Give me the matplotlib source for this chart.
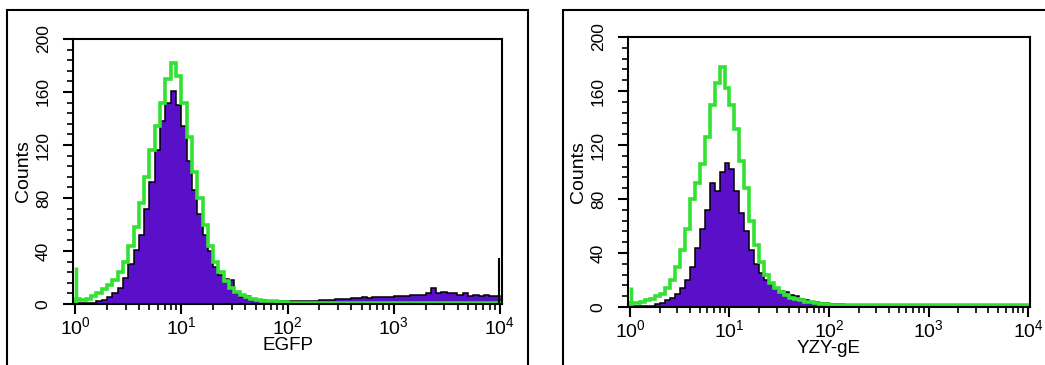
import numpy as np
import matplotlib
matplotlib.use('Agg')
import matplotlib.pyplot as plt
from matplotlib.ticker import MultipleLocator, FixedLocator, LogLocator, NullFormatter, FuncFormatter
from matplotlib.patches import Rectangle

plt.rcParams['font.family'] = ['Liberation Sans', 'DejaVu Sans']

# channel edges: 80 log channels over 4 decades
n_ch = 80
edges = 10 ** (np.arange(n_ch + 1) * 4.0 / n_ch)

# panel 1 : EGFP
egfp_filled = [1, 0.5, 0.5, 1, 2, 3, 5, 8, 12, 20,
               30, 41, 52, 72, 92, 116, 138, 152, 161, 150,
               134, 108, 86, 68, 52, 40, 28, 22, 19, 18,
               8, 5, 6, 4, 3, 3, 2, 2, 2, 2,
               2, 2, 2, 2, 2, 2.5, 3, 3, 3, 3.5,
               4, 4, 4.5, 4.5, 5, 4.5, 5, 5, 5.5, 5,
               6, 6, 6, 7, 7, 7, 8, 12, 8, 9,
               8, 8, 7, 8, 6, 7, 6, 7, 6, 6]
egfp_green = [4, 3, 4, 6, 8, 11, 14, 18, 24, 32,
              44, 58, 76, 96, 116, 134, 152, 170, 182, 172,
              152, 126, 100, 80, 60, 44, 32, 24, 17, 12,
              9, 7, 5, 4, 3, 2.5, 2, 2, 1.5, 1.5,
              1, 1, 1, 1, 1, 1, 1, 1, 1, 1,
              1, 1, 1, 1, 1, 1, 1, 1, 1, 1,
              1, 1, 1, 1, 1, 1, 1, 1, 1, 1,
              1, 1, 1, 1, 1, 1, 1, 1, 1, 1]
egfp_green_first = 28
egfp_filled_last = 35

# panel 2 : YZY-gE
yzy_filled = [0.5, 0.5, 0.5, 1, 1, 2, 3, 5, 7, 10,
              14, 20, 30, 44, 58, 72, 92, 86, 100, 107,
              102, 86, 70, 56, 42, 32, 25, 20, 17, 14,
              12, 11, 9, 8, 6, 5, 4, 3.5, 3, 3,
              2.5, 2, 2, 1.5, 1.5, 1.5, 1, 1, 1, 1,
              1.5, 1, 1, 1.5, 1, 1, 0.5, 0.5, 0.5, 0.5,
              0.5, 0.5, 0.5, 0.5, 0.5, 0.5, 0.5, 0.5, 0.5, 0.5,
              0.5, 0.5, 0.5, 0.5, 0.5, 0.5, 0.5, 0.5, 0.5, 0.5]
yzy_green = [3, 3, 4, 5, 6, 8, 10, 14, 20, 30,
             42, 58, 80, 92, 106, 126, 150, 166, 178, 162,
             150, 132, 108, 88, 64, 46, 33, 24, 18, 14,
             11, 9, 7, 6, 5, 4, 3.5, 3, 2.5, 2,
             1.5, 1.5, 1.5, 1.5, 1.5, 1.5, 1.5, 1.5, 1.5, 1.5,
             1.5, 1.5, 1.5, 1.5, 1.5, 1.5, 1.5, 1.5, 1.5, 1.5,
             1.5, 1.5, 1.5, 1.5, 1.5, 1.5, 1.5, 1.5, 1.5, 1.5,
             1.5, 1.5, 1.5, 1.5, 1.5, 1.5, 1.5, 1.5, 1.5, 1.5]
yzy_green_first = 15

x_ticks = [1, 10, 100, 1000, 10000]
y_ticks = [0, 40, 80, 120, 160, 200]
y_tick_labels = ['0', '40', '80', '120', '160', '200']

purple = '#5a0fc8'
green = '#33e133'

W, H = 1045, 365
fig = plt.figure(figsize=(W / 100, H / 100), dpi=100)

# outer boxes round each panel
fig.add_artist(Rectangle((7 / W, -0.1), 521 / W, 1.1 - 10 / H, transform=fig.transFigure,
                         fill=False, ec='black', lw=1.5))
fig.add_artist(Rectangle((563 / W, -0.1), 0.6, 1.1 - 10 / H, transform=fig.transFigure,
                         fill=False, ec='black', lw=1.5))

ax1 = fig.add_axes([73 / W, 1 - 304 / H, 429 / W, 265 / H])
ax2 = fig.add_axes([628 / W, 1 - 307 / H, 402 / W, 270 / H])


def draw_panel(ax, filled, green_line, green_first, xlabel):
    ax.stairs(filled, edges, fill=True, color=purple, lw=0)
    ax.stairs(filled, edges, color='black', lw=1.1)
    ax.stairs(green_line, edges, color=green, lw=2.6)
    ax.vlines(10 ** 0.012, 0, green_first, color=green, lw=2.5)

    ax.set_xscale('log')
    ax.set_xlim(10 ** -0.02, 10 ** 4.02)
    ax.set_ylim(0, 200)
    ax.xaxis.set_major_locator(FixedLocator(x_ticks))
    ax.xaxis.set_minor_locator(LogLocator(base=10, subs=np.arange(2, 10)))
    ax.xaxis.set_minor_formatter(NullFormatter())
    ax.xaxis.set_major_formatter(FuncFormatter(
        lambda v, p: r'$\mathdefault{10^{%d}}$' % round(np.log10(v))))
    ax.set_yticks(y_ticks, y_tick_labels, rotation=90, va='center')
    ax.yaxis.set_minor_locator(MultipleLocator(8))

    ax.tick_params(which='major', direction='out', length=7, width=1.5)
    ax.tick_params(which='minor', direction='out', length=4, width=1.2)
    ax.tick_params(axis='x', labelsize=14, pad=2)
    ax.tick_params(axis='y', labelsize=12.5, pad=9)
    for s in ax.spines.values():
        s.set_linewidth(1.5)
    ax.set_xlabel(xlabel, fontsize=13.5, labelpad=-1)
    ax.set_ylabel('Counts', fontsize=14, labelpad=3)


draw_panel(ax1, egfp_filled, egfp_green, egfp_green_first, 'EGFP')
ax1.vlines(10 ** 3.994, 0, egfp_filled_last, color='black', lw=1.5)
draw_panel(ax2, yzy_filled, yzy_green, yzy_green_first, 'YZY-gE')

fig.savefig('out.png', dpi=100)
